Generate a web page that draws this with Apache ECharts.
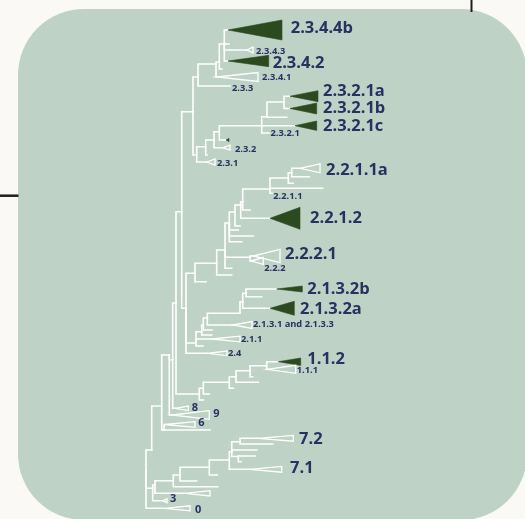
<!DOCTYPE html>
<html>
<head>
<meta charset="utf-8">
<script src="https://cdn.jsdelivr.net/npm/echarts@6/dist/echarts.min.js"></script>
<style>
html,body{margin:0;padding:0;background:#faf9f5;}
#c{width:525px;height:519px;}
</style>
</head>
<body>
<div id="c"></div>
<script>
// ---- Tree data: node name, parent, divergence (x) and row (y) ----
const nodeName = ['root','n151','n161','n169','n164','c6','l430','n172','c9','c8','n176','n181','n199','n193','n186',
 'n198','n196b','n216','l233','n219','c2341','n224','l69','c2344b','l44','c2343','c2342','n205','c231','n214','l155','n219b','c232','n261','cdot','n267','c2321c','l2321','n284','l117','c2321a','c2321b',
 'n195','n196','c24','n216b','l281','n225','l275','n229b','n250','l268','n235','l230','l236','l241','n240b','l226','n242','c2212','n270','l210','n288','l188','l2211','n291','l183','c2211a','l176','c2221','c222',
 'n201','c211','l346','n203','l335','n207','l330','n240','c2131','n242b','n246','c2132a','c2132b','l296',
 'n203b','l400','n229c','l394','n236','l388','n250b','l382','n266','l376','c112','c111',
 'n152','c0','n155','c3','n173','cx','n180','l486','n209','l481','n229d','l475','n231','c71','n240c','l450','n238','c72','l444','l456','l461'];
const nodeParent = [null,'root','n151','n161','n161','n164','n164','n169','n169','n172','n172','n176','n176','n181','n181',
 'n193','n193','n198','n198','n216','n216','n219','n219','n224','n224','n224','n224','n196b','n196b','n205','n205','n214','n214','n219b','n219b','n261','n261','n261','n267','n267','n284','n284',
 'n186','n186','n186','n195','n195','n216b','n216b','n225','n225','n225','n229b','n229b','n229b','n229b','n235','n235','n240b','n240b','n242','n242','n270','n270','n270','n288','n288','n291','n291','n250','n250',
 'n196','n196','n196','n201','n201','n203','n203','n207','n207','n240','n242b','n242b','n246','n246',
 'n199','n199','n203b','n203b','n229c','n229c','n236','n236','n250b','n250b','n266','n266',
 'root','root','n152','n152','n155','n155','n173','n173','n180','n180','n209','n209','n229d','n229d','n231','n231','n231','n240c','n240c','n238','n238'];
const nodeX = [146,151.7,161.7,169.3,164,165,210,172.7,172,175,176,181.7,199.3,193,186,
 198,196.7,216,230,219.3,217,224.3,222,228,229,247,228,205.7,207,214,207,219.3,223,261.7,226,267,295,269,284,286.7,290,290,
 195,196,207,216.7,206,225,231.7,229.3,250,231.7,235,238.3,253.3,241.7,240.7,240,242.7,270,270,250,288.3,322.7,272,291.7,293,300,309.3,253.3,251,
 201.7,212,203,203.3,211.7,207.3,212,240,233,242.7,246,270,276.7,261.7,
 203.3,203.5,229.3,209.3,236,233.3,250,258.3,266.7,252.7,278.3,266.7,
 152.7,165,155,163,173.3,185,180,217.7,209.3,196.7,229.3,217.3,231.7,250,240,256.7,238.3,258.3,272.7,255,241];
const nodeY = [470,450,406,355,430,424.5,430,360,415,408.3,303,211.7,394,111.7,308.3,
 77,155,64,86,62,77,44,69,30,44,50,61,146.7,162,140,155,131.7,147.7,125.7,140,116.7,125.7,133,102,117.3,96.2,108.5,
 273.3,343,353.3,263.3,281.7,250,275,223,257.3,268.3,212,230,236,241.7,205,226,201.7,218.3,189,210,178,188.3,193.3,172.7,183.3,168.3,176.7,256,261,
 331.7,339,346,325,335,318,330,313.3,325,301.7,293.3,308.3,289,296.7,
 388.3,400,382.3,394,376.7,388.3,370.7,382.3,365.7,376.7,361.7,369.3,
 488.3,508.3,485,500.7,480.7,493.3,475,486.7,467.3,481,460,475,451.7,469.3,441.7,450,456.5,438.3,444,456,461.7];

// ---- Collapsed clades (triangles): node, tip divergence, spread, kind ----
const cladeNode   = ['c2344b','c2343','c2342','c2341','c2321a','c2321b','c2321c','cdot','c232','c231','c2211a','c2212','c2221','c222','c2132b','c2132a','c2131','c211','c24','c112','c111','c8','c9','c6','c72','c71','cx','c3','c0'];
const cladeTip    = [282,253,268.7,258,318,316.7,316.7,229,230,215,320,300,280,263.3,302.3,294.3,252,240,227,300.7,295.7,188.3,209.3,195,293.3,281.7,210,167,190];
const cladeSpread = [10,3,5.7,4.5,5.5,5.5,4.7,1.6,2.5,3,4.5,11,6.7,3.5,3,7,3.5,2.8,2.3,3.7,4,2.3,4.3,2.8,2.9,2.9,2.7,2,2.5];
const cladeFilled = [1,0,1,0,1,1,1,1,0,0,0,1,0,0,1,1,0,0,0,1,0,0,0,0,0,0,0,0,0];

// ---- Clade labels ----
const labelText = ['2.3.4.4b','2.3.4.3','2.3.4.2','2.3.4.1','2.3.3','2.3.2.1a','2.3.2.1b','2.3.2.1c','2.3.2.1','2.3.2','2.3.1',
 '2.2.1.1a','2.2.1.1','2.2.1.2','2.2.2.1','2.2.2','2.1.3.2b','2.1.3.2a','2.1.3.1 and 2.1.3.3','2.1.1','2.4','1.1.2','1.1.1','8','9','6','7.2','7.1','3','0'];
const labelNode = ['c2344b','c2343','c2342','c2341','l233','c2321a','c2321b','c2321c','l2321','c232','c231',
 'c2211a','l2211','c2212','c2221','c222','c2132b','c2132a','c2131','c211','c24','c112','c111','c8','c9','c6','c72','c71','c3','c0'];

// ---- Styling (label size class and nudges) ----
const bigLabels = new Set(['2.3.4.4b','2.3.4.2','2.3.2.1a','2.3.2.1b','2.3.2.1c','2.2.1.1a','2.2.1.2','2.2.2.1','2.1.3.2b','2.1.3.2a','1.1.2','7.2','7.1']);
const midLabels = new Set(['8','9','6','3','0']);
const nudge = {'2.3.4.4b':[8.7,-2],'2.3.4.3':[3,1],'2.3.4.2':[4,2],'2.3.4.1':[4,0],'2.3.3':[2,2],'2.3.2.1a':[5,-4.5],'2.3.2.1b':[6.3,0],
 '2.3.2.1c':[6.3,1],'2.3.2.1':[1.5,0],'2.3.2':[5,2],'2.3.1':[2,1.3],'2.2.1.1a':[6,1.7],'2.2.1.1':[1.3,3.4],'2.2.1.2':[10,0],'2.2.2.1':[5,-1.7],
 '2.2.2':[1,7],'2.1.3.2b':[5,0.3],'2.1.3.2a':[5.7,0.7],'2.1.3.1 and 2.1.3.3':[1,-0.5],'2.1.1':[1,0.3],'2.4':[1,0],'1.1.2':[6.6,-2.4],
 '1.1.1':[1,1.2],'8':[3.4,0],'9':[4,-0.7],'6':[3.3,-1.8],'7.2':[5.7,0.7],'7.1':[8.3,-1],'3':[3,-1.4],'0':[5,1.7]};

const idx = {};
nodeName.forEach((n,i)=>idx[n]=i);

const edgeData = [];
nodeName.forEach((n,i)=>{
  const p = nodeParent[i];
  if (p === null) return;
  const j = idx[p];
  edgeData.push([nodeX[j], nodeY[j], nodeX[i], nodeY[i]]);
});
const cladeData = cladeNode.map((n,k)=>{
  const i = idx[n];
  return [nodeX[i], nodeY[i], cladeTip[k], cladeSpread[k], cladeFilled[k]];
});
const cladeTipOf = {};
cladeNode.forEach((n,k)=>cladeTipOf[n]=cladeTip[k]);
const labelData = labelNode.map((n)=>{
  const i = idx[n];
  return [cladeTipOf[n] !== undefined ? cladeTipOf[n] : nodeX[i], nodeY[i]];
});

const NAVY = '#2a3160';
const chart = echarts.init(document.getElementById('c'), null, {renderer:'canvas'});
chart.setOption({
  backgroundColor: '#faf9f5',
  animation: false,
  grid: {left:0, right:0, top:0, bottom:0},
  xAxis: {type:'value', min:0, max:525, show:false},
  yAxis: {type:'value', min:0, max:519, inverse:true, show:false},
  graphic: [
    {type:'rect', z:-10, shape:{x:18, y:9, width:509, height:511, r:66}, style:{fill:'#bfd2c6'}},
    {type:'line', z:-10, shape:{x1:471.5, y1:0, x2:471.5, y2:12}, style:{stroke:'#1e1e1e', lineWidth:2}},
    {type:'line', z:-10, shape:{x1:0, y1:195.7, x2:18.5, y2:195.7}, style:{stroke:'#1e1e1e', lineWidth:2.5}}
  ],
  series: [
    {
      type:'custom', name:'branches', coordinateSystem:'cartesian2d', silent:true,
      data: edgeData,
      renderItem: (params, api) => {
        const a = api.coord([api.value(0), api.value(1)]);
        const b = api.coord([api.value(0), api.value(3)]);
        const c = api.coord([api.value(2), api.value(3)]);
        return {type:'polyline', shape:{points:[a,b,c]}, style:{stroke:'#ffffff', lineWidth:1.6, fill:null, lineJoin:'miter', lineCap:'square'}};
      }
    },
    {
      type:'custom', name:'clades', coordinateSystem:'cartesian2d', silent:true,
      data: cladeData,
      renderItem: (params, api) => {
        const x0 = api.value(0), y = api.value(1), x1 = api.value(2), s = api.value(3), f = api.value(4);
        const pts = [api.coord([x0,y]), api.coord([x1,y-s]), api.coord([x1,y+s])];
        return {type:'polygon', shape:{points:pts},
          style: f ? {fill:'#2c4a1f', stroke:'#2c4a1f', lineWidth:0.6}
                   : {fill:null, stroke:'#ffffff', lineWidth:1.3, lineJoin:'miter'}};
      }
    },
    {
      type:'custom', name:'labels', coordinateSystem:'cartesian2d', silent:true,
      data: labelData,
      renderItem: (params, api) => {
        const t = labelText[params.dataIndex];
        const p = api.coord([api.value(0), api.value(1)]);
        const n = nudge[t] || [3,0];
        const size = bigLabels.has(t) ? 16.5 : (midLabels.has(t) ? 11 : 9.3);
        return {type:'text', style:{text:t, x:p[0]+n[0], y:p[1]+n[1], fill:NAVY,
          font:'bold ' + size + 'px "Open Sans", sans-serif', textAlign:'left', textVerticalAlign:'middle'}};
      }
    }
  ]
});
</script>
</body>
</html>
